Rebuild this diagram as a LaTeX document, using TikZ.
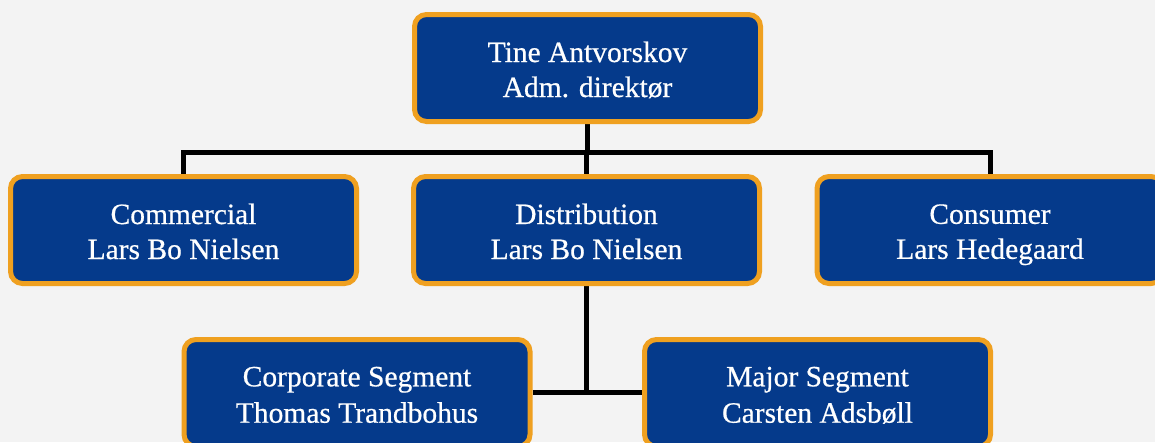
\documentclass[tikz,border=0pt]{standalone}
\usepackage{fontspec}
\setmainfont{Liberation Serif}[FakeBold=0.6]
\usetikzlibrary{backgrounds}
\definecolor{bg}{HTML}{F3F3F3}
\definecolor{boxblue}{HTML}{053A8B}
\definecolor{boxorange}{HTML}{EFA020}
\newcommand{\ls}{\rule[-6pt]{0pt}{35pt}}
\tikzset{
  orgbox/.style={draw=boxorange, fill=boxblue, line width=5pt, rounded corners=12pt,
    minimum width=346pt, minimum height=107pt, text=white, align=center, inner sep=0pt,
    font=\fontsize{29.5}{35}\selectfont},
  link/.style={line width=5pt, draw=black}
}
\begin{document}
\begin{tikzpicture}[x=1pt,y=-1pt]
\useasboundingbox (0,0) rectangle (1155,442);
\clip (0,0) rectangle (1155,442);
\node[orgbox] (top) at (587.5,68) {\ls Tine Antvorskov\\\ls Adm. direktør};
\node[orgbox] (com) at (183.5,230) {\ls Commercial\\\ls Lars Bo Nielsen};
\node[orgbox] (dis) at (586.5,230) {\ls Distribution\\\ls Lars Bo Nielsen};
\node[orgbox] (con) at (990,230) {\ls Consumer\\\ls Lars Hedegaard};
\node[orgbox] (cor) at (357,393) {\ls Corporate Segment\\\ls Thomas Trandbohus};
\node[orgbox] (maj) at (817.5,393) {\ls Major Segment\\\ls Carsten Adsbøll};
\coordinate (j) at (587,152);
\coordinate (k) at (587,392);
\begin{pgfonlayer}{background}
\fill[bg] (0,0) rectangle (1155,442);
\draw[link] (top.south) -- (top.south |- j);
\draw[link] (com.north) -- (com.north |- j) -- (con.north |- j) -- (con.north);
\draw[link] (dis.north) -- (dis.north |- j);
\draw[link] (dis.south) -- (dis.south |- k);
\draw[link] (cor.east |- k) -- (maj.west |- k);
\end{pgfonlayer}
\end{tikzpicture}
\end{document}
